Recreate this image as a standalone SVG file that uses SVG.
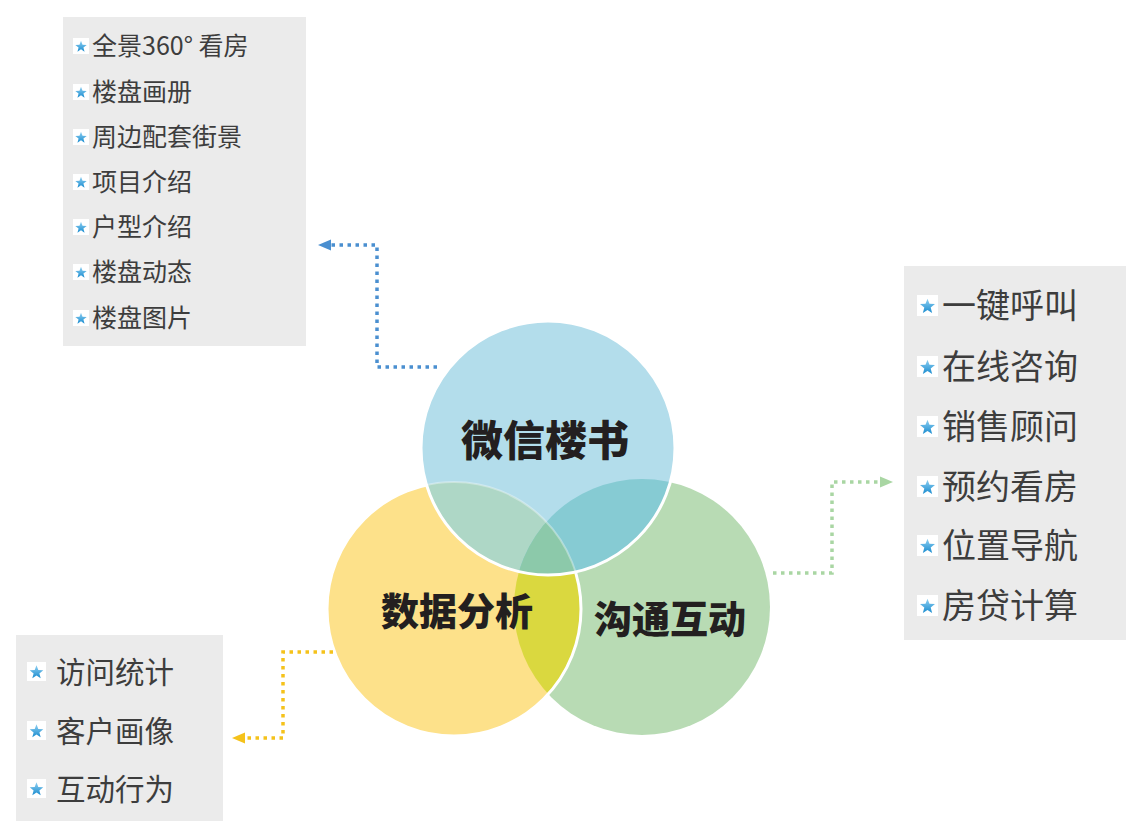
<svg xmlns="http://www.w3.org/2000/svg" xmlns:xlink="http://www.w3.org/1999/xlink" width="1147" height="834" viewBox="0 0 1147 834">
<style>
.box{fill:#ebebeb}
.item{font-family:"Noto Sans CJK SC","Noto Sans",sans-serif;fill:#3d3d3d}
.s1{font-size:25px}
.s2{font-size:34px}
.s3{font-size:29.5px}
.lbl{font-family:"Noto Sans CJK SC","Noto Sans",sans-serif;font-weight:900;fill:#231f20;text-anchor:middle}
.dot{fill:none;stroke-width:3.5;stroke-dasharray:3.5 4.5}
.sq{fill:#ffffff}
</style>
<defs>
<linearGradient id="sg" x1="0" y1="0" x2="0" y2="1">
<stop offset="0" stop-color="#8fd0f2"/>
<stop offset="1" stop-color="#1a8ccf"/>
</linearGradient>
<symbol id="star" viewBox="0 0 20 20">
<rect class="sq" x="0" y="0" width="20" height="20"/>
<polygon fill="url(#sg)" points="10,3.5 11.88,8.41 17.13,8.68 13.04,11.99 14.41,17.07 10,14.2 5.59,17.07 6.96,11.99 2.87,8.68 8.12,8.41"/>
</symbol>
<clipPath id="cB"><circle cx="548" cy="448" r="127"/></clipPath>
<clipPath id="cY"><circle cx="454" cy="609" r="127"/></clipPath>
<clipPath id="cG"><circle cx="642" cy="607" r="128"/></clipPath>
<marker id="aBlue" markerUnits="userSpaceOnUse" markerWidth="14" markerHeight="14" viewBox="0 0 14 14" refX="2" refY="7" orient="auto">
<polygon points="0,1.5 13,7 0,12.5" fill="#4a8fd0"/>
</marker>
<marker id="aGreen" markerUnits="userSpaceOnUse" markerWidth="14" markerHeight="14" viewBox="0 0 14 14" refX="2" refY="7" orient="auto">
<polygon points="0,1.5 13,7 0,12.5" fill="#a9d6a3"/>
</marker>
<marker id="aYellow" markerUnits="userSpaceOnUse" markerWidth="14" markerHeight="14" viewBox="0 0 14 14" refX="2" refY="7" orient="auto">
<polygon points="0,1.5 13,7 0,12.5" fill="#f5c21b"/>
</marker>
</defs>
<rect width="1147" height="834" fill="#ffffff"/>

<!-- circles -->
<g id="venn">
<circle cx="642" cy="607" r="128" fill="#b8dbb4"/>
<circle cx="454" cy="609" r="127" fill="#fde18a"/>
<circle cx="642" cy="607" r="128" fill="#dad83f" clip-path="url(#cY)"/>
<circle cx="454" cy="609" r="127" fill="none" stroke="#ffffff" stroke-width="3"/>
<circle cx="548" cy="448" r="127" fill="#b3ddeb"/>
<circle cx="454" cy="609" r="127" fill="#aed7c6" clip-path="url(#cB)"/>
<circle cx="642" cy="607" r="128" fill="#86cbd3" clip-path="url(#cB)"/>
<g clip-path="url(#cB)"><circle cx="642" cy="607" r="128" fill="#8cc9aa" clip-path="url(#cY)"/></g>
<circle cx="454" cy="609" r="127" fill="none" stroke="#ffffff" stroke-opacity="0.35" stroke-width="2" clip-path="url(#cB)"/>
<circle cx="548" cy="448" r="127" fill="none" stroke="#ffffff" stroke-width="3"/>
</g>
<g id="node-weixin"><text class="lbl" x="545" y="456" font-size="42">微信楼书</text></g>
<g id="node-data"><text class="lbl" x="457" y="625" font-size="38">数据分析</text></g>
<g id="node-comm"><text class="lbl" x="670" y="633" font-size="38">沟通互动</text></g>

<!-- connectors -->
<g id="connectors">
<path class="dot" stroke="#4a8fd0" d="M437,367 H377 V245 H329" marker-end="url(#aBlue)"/>
<path class="dot" stroke="#a9d6a3" d="M773,573 H832 V482 H882" marker-end="url(#aGreen)"/>
<path class="dot" stroke="#f5c21b" d="M333,652 H283 V738 H243" marker-end="url(#aYellow)"/>
</g>

<!-- top-left list -->
<g id="list-weixin">
<rect class="box" x="63" y="17" width="243" height="329"/>
<use href="#star" x="73" y="38" width="16" height="16"/>
<text class="item s1" x="92" y="55">全景360° 看房</text>
<use href="#star" x="73" y="84" width="16" height="16"/>
<text class="item s1" x="92" y="101">楼盘画册</text>
<use href="#star" x="73" y="129" width="16" height="16"/>
<text class="item s1" x="92" y="146">周边配套街景</text>
<use href="#star" x="73" y="174" width="16" height="16"/>
<text class="item s1" x="92" y="191">项目介绍</text>
<use href="#star" x="73" y="219" width="16" height="16"/>
<text class="item s1" x="92" y="236">户型介绍</text>
<use href="#star" x="73" y="264" width="16" height="16"/>
<text class="item s1" x="92" y="281">楼盘动态</text>
<use href="#star" x="73" y="310" width="16" height="16"/>
<text class="item s1" x="92" y="327">楼盘图片</text>
</g>

<!-- right list -->
<g id="list-comm">
<rect class="box" x="904" y="266" width="222" height="374"/>
<use href="#star" x="917" y="295" width="21" height="21"/>
<text class="item s2" x="942" y="318">一键呼叫</text>
<use href="#star" x="917" y="356" width="21" height="21"/>
<text class="item s2" x="942" y="379">在线咨询</text>
<use href="#star" x="917" y="416" width="21" height="21"/>
<text class="item s2" x="942" y="439">销售顾问</text>
<use href="#star" x="917" y="476" width="21" height="21"/>
<text class="item s2" x="942" y="499">预约看房</text>
<use href="#star" x="917" y="535" width="21" height="21"/>
<text class="item s2" x="942" y="558">位置导航</text>
<use href="#star" x="917" y="595" width="21" height="21"/>
<text class="item s2" x="942" y="618">房贷计算</text>
</g>

<!-- bottom-left list -->
<g id="list-data">
<rect class="box" x="16" y="635" width="207" height="186"/>
<use href="#star" x="27" y="662" width="19" height="19"/>
<text class="item s3" x="56" y="683">访问统计</text>
<use href="#star" x="27" y="721" width="19" height="19"/>
<text class="item s3" x="56" y="742">客户画像</text>
<use href="#star" x="27" y="779" width="19" height="19"/>
<text class="item s3" x="56" y="800">互动行为</text>
</g>
</svg>
